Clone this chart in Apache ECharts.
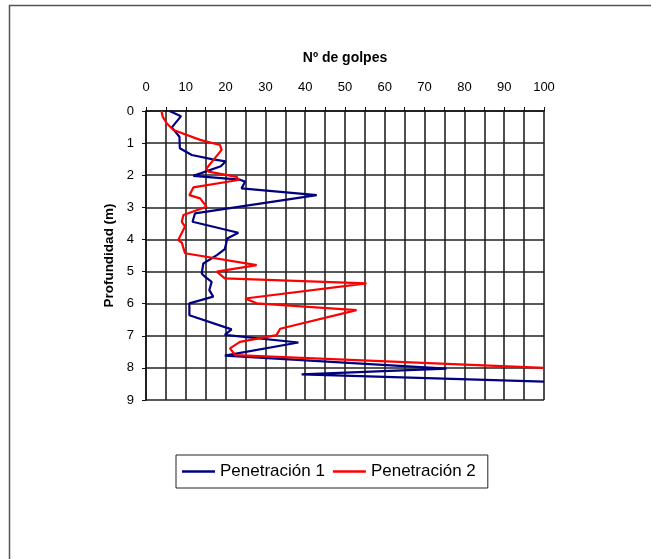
<!DOCTYPE html>
<html>
<head>
<meta charset="utf-8">
<script src="https://cdn.jsdelivr.net/npm/echarts@6/dist/echarts.min.js"></script>
<style>
html,body{margin:0;padding:0;background:#fff;}
#chart{width:651px;height:559px;}
</style>
</head>
<body>
<div id="chart"></div>
<script>
// Penetración 1 (blue): golpes and depth (m)
const golpes1 = [5.9, 8.8, 6.5, 8.4, 8.5, 11.5, 16.5, 20.0, 18.8, 11.9, 23.6, 24.9, 24.0, 42.9, 12.3, 11.7, 23.2, 20.4, 20.1, 19.8, 17.8, 14.4, 14.0, 14.8, 16.5, 15.9, 16.9, 10.9, 10.9, 21.5, 19.8, 38.3, 19.8, 75.5, 39.1, 100];
const prof1   = [0.0, 0.16, 0.51, 0.8, 1.16, 1.37, 1.5, 1.57, 1.72, 2.02, 2.14, 2.2, 2.41, 2.62, 3.19, 3.45, 3.79, 3.97, 4.15, 4.3, 4.49, 4.75, 5.06, 5.16, 5.32, 5.58, 5.78, 5.99, 6.36, 6.8, 6.97, 7.21, 7.62, 8.02, 8.2, 8.43];
// Penetración 2 (red)
const golpes2 = [3.9, 4.2, 5.2, 6.9, 13.6, 18.6, 19.0, 16.9, 15.2, 15.7, 22.8, 23.2, 11.9, 10.9, 13.6, 15.2, 9.4, 9.0, 9.8, 8.1, 9.0, 9.8, 27.8, 17.8, 19.8, 55.4, 24.9, 27.8, 52.9, 33.7, 32.8, 23.6, 21.1, 22.4, 100];
const prof2   = [0.0, 0.18, 0.38, 0.59, 0.9, 1.06, 1.21, 1.53, 1.79, 1.89, 2.05, 2.15, 2.38, 2.62, 2.72, 2.98, 3.24, 3.45, 3.6, 4.02, 4.1, 4.43, 4.8, 5.0, 5.21, 5.37, 5.84, 5.99, 6.2, 6.78, 6.98, 7.19, 7.39, 7.6, 8.0];
const xTicks = [0, 10, 20, 30, 40, 50, 60, 70, 80, 90, 100];
const seriesNames = ['Penetración 1', 'Penetración 2'];

const pairs = (xs, ys) => xs.map((v, i) => [v, ys[i]]);

const chart = echarts.init(document.getElementById('chart'), null, {renderer: 'canvas'});
const font = 'Liberation Sans, Arial, sans-serif';
chart.setOption({
  animation: false,
  backgroundColor: '#fff',
  graphic: [{
    type: 'rect',
    shape: {x: 9.5, y: 5.5, width: 700, height: 600},
    style: {fill: 'none', stroke: '#555', lineWidth: 1.5},
    silent: true
  }],
  grid: {left: 146, top: 111, width: 398, height: 289, containLabel: false},
  legend: {
    left: 176, top: 455,
    data: seriesNames.map(n => ({name: n, icon: 'rect'})),
    orient: 'horizontal',
    itemWidth: 33, itemHeight: 2.5, itemGap: 8,
    padding: [7, 12, 7, 6],
    borderColor: '#222', borderWidth: 1,
    textStyle: {fontFamily: font, fontSize: 17, color: '#000', padding: [0, 0, 0, 0], lineHeight: 19}
  },
  xAxis: {
    type: 'value', position: 'top', min: 0, max: 100, interval: 5,
    name: 'Nº de golpes', nameLocation: 'middle', nameGap: 46,
    nameTextStyle: {fontFamily: font, fontSize: 14, fontWeight: 'bold', color: '#000'},
    axisLine: {show: true, lineStyle: {color: '#111', width: 1.5}},
    axisTick: {show: true, length: 4, lineStyle: {color: '#111'}},
    axisLabel: {
      fontFamily: font, fontSize: 13, color: '#000', margin: 17,
      formatter: v => (xTicks.indexOf(v) >= 0 ? String(v) : '')
    },
    splitLine: {show: true, lineStyle: {color: '#222', width: 1.6}}
  },
  yAxis: {
    type: 'value', inverse: true, min: 0, max: 9, interval: 1,
    name: 'Profundidad (m)', nameLocation: 'middle', nameGap: 30, nameRotate: 90,
    nameTextStyle: {fontFamily: font, fontSize: 13.5, fontWeight: 'bold', color: '#000'},
    axisLine: {show: true, lineStyle: {color: '#111', width: 1.5}},
    axisTick: {show: true, length: 4, lineStyle: {color: '#111'}},
    axisLabel: {fontFamily: font, fontSize: 13, color: '#000', margin: 12},
    splitLine: {show: true, lineStyle: {color: '#222', width: 1.6}}
  },
  series: [
    {
      name: seriesNames[0], type: 'line', data: pairs(golpes1, prof1),
      symbol: 'none', lineStyle: {color: '#000080', width: 2.2}, itemStyle: {color: '#000080'},
      clip: true
    },
    {
      name: seriesNames[1], type: 'line', data: pairs(golpes2, prof2),
      symbol: 'none', lineStyle: {color: '#ff0000', width: 2.2}, itemStyle: {color: '#ff0000'},
      clip: true
    }
  ]
});
</script>
</body>
</html>
